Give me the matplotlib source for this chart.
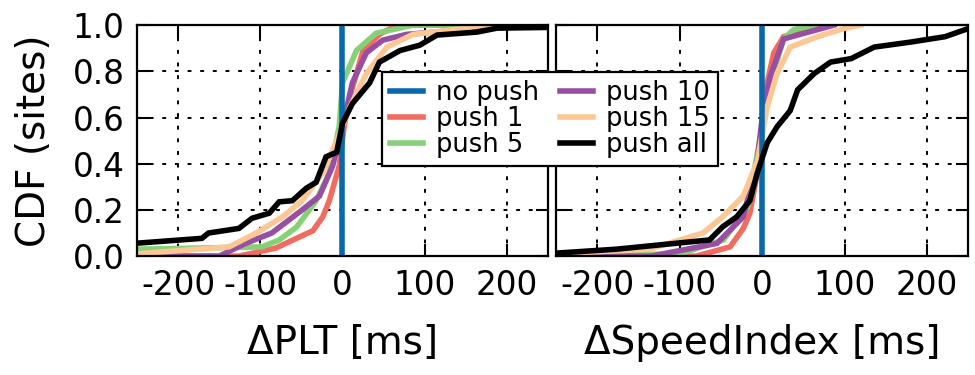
import matplotlib
matplotlib.use("Agg")
import matplotlib.pyplot as plt

# series names and colours
names = ["no push", "push 1", "push 5", "push 10", "push 15", "push all"]
colors = ["#0868ac", "#f26b5f", "#86d077", "#984ea3", "#fdc794", "black"]

# no push is the reference: all deltas are zero
nopush_x = [0, 0]
nopush_y = [0.0, 1.0]

# delta PLT (left panel)
plt_p1_x = [-250, -126, -81, -56, -36, -24, -16, -4, 2, 9, 25, 45, 66, 250]
plt_p1_y = [0.0, 0.0, 0.035, 0.077, 0.11, 0.17, 0.24, 0.39, 0.56, 0.69, 0.89, 0.96, 1.0, 1.0]
plt_p5_x = [-250, -98, -77, -56, -32, -16, -4, 0, 17, 41, 86, 250]
plt_p5_y = [0.03, 0.04, 0.07, 0.125, 0.24, 0.36, 0.56, 0.75, 0.89, 0.965, 1.0, 1.0]
plt_p10_x = [-250, -150, -118, -86, -49, -28, -12, 0, 12, 29, 49, 78, 147, 190, 250]
plt_p10_y = [0.0, 0.0, 0.055, 0.10, 0.20, 0.26, 0.39, 0.56, 0.75, 0.88, 0.935, 0.96, 0.98, 1.0, 1.0]
plt_p15_x = [-250, -138, -105, -73, -49, -24, -7, 9, 29, 54, 86, 147, 170, 250]
plt_p15_y = [0.01, 0.04, 0.10, 0.17, 0.24, 0.36, 0.50, 0.645, 0.79, 0.905, 0.96, 0.985, 1.0, 1.0]
plt_all_x = [-250, -171, -163, -126, -110, -89, -77, -61, -44, -32, -20, -7, 0, 12, 33, 45,
             70, 94, 115, 164, 188, 250]
plt_all_y = [0.056, 0.077, 0.10, 0.12, 0.164, 0.186, 0.235, 0.24, 0.294, 0.32, 0.43, 0.45,
             0.575, 0.66, 0.75, 0.84, 0.89, 0.913, 0.957, 0.97, 0.987, 0.99]

# delta SpeedIndex (right panel)
si_p1_x = [-250, -80, -39, -23, -15, -6, 1, 6, 14, 26, 59, 70]
si_p1_y = [0.0, 0.0, 0.04, 0.12, 0.185, 0.36, 0.60, 0.75, 0.88, 0.95, 0.985, 1.0]
si_p5_x = [-250, -100, -47, -18, -2, 10, 26, 38, 64]
si_p5_y = [0.0, 0.01, 0.07, 0.21, 0.52, 0.75, 0.94, 0.98, 1.0]
si_p10_x = [-250, -135, -55, -23, -6, 1, 10, 26, 46, 87]
si_p10_y = [0.0, 0.0, 0.055, 0.17, 0.415, 0.63, 0.78, 0.94, 0.96, 1.0]
si_p15_x = [-250, -137, -72, -48, -23, -6, 6, 18, 34, 67, 99, 120]
si_p15_y = [0.01, 0.03, 0.10, 0.17, 0.26, 0.41, 0.645, 0.79, 0.905, 0.95, 0.985, 1.0]
si_all_x = [-250, -177, -64, -48, -31, -15, -6, 6, 18, 34, 43, 63, 83, 108, 136, 181, 222, 250]
si_all_y = [0.013, 0.03, 0.07, 0.127, 0.17, 0.24, 0.36, 0.49, 0.56, 0.63, 0.72, 0.79, 0.84,
            0.855, 0.905, 0.927, 0.95, 0.985]

x_ticks = [-200, -100, 0, 100, 200]
y_ticks = [0.0, 0.2, 0.4, 0.6, 0.8, 1.0]

panels = [
    ("\u0394PLT [ms]", [(nopush_x, nopush_y), (plt_p1_x, plt_p1_y), (plt_p5_x, plt_p5_y),
                        (plt_p10_x, plt_p10_y), (plt_p15_x, plt_p15_y), (plt_all_x, plt_all_y)]),
    ("\u0394SpeedIndex [ms]", [(nopush_x, nopush_y), (si_p1_x, si_p1_y), (si_p5_x, si_p5_y),
                               (si_p10_x, si_p10_y), (si_p15_x, si_p15_y), (si_all_x, si_all_y)]),
]

plt.rcParams["font.family"] = ["DejaVu Sans"]

fig = plt.figure(figsize=(9.75, 3.75), dpi=100)
ax_l = fig.add_axes([0.1405, 0.317, 0.4215, 0.616])
ax_r = fig.add_axes([0.5705, 0.317, 0.4225, 0.616], sharey=ax_l)

zorders = [6, 3, 3, 3, 3, 7]
handles = []
for ax, (xlabel, curves) in zip([ax_l, ax_r], panels):
    handles = []
    for (xs, ys), name, c, z in zip(curves, names, colors, zorders):
        h, = ax.plot(xs, ys, color=c, lw=4.0, label=name, zorder=z,
                     solid_joinstyle="miter")
        handles.append(h)
    ax.set_xlim(-250, 250)
    ax.set_ylim(0, 1)
    ax.set_xticks(x_ticks)
    ax.set_xticklabels([str(t) for t in x_ticks])
    ax.set_yticks(y_ticks)
    ax.set_axisbelow(False)
    ax.grid(True, color="black", linestyle=(0, (2, 4.5)), linewidth=1.4, zorder=8)
    ax.tick_params(direction="in", length=9, width=1.5, top=True, right=True,
                   labelsize=23.5, pad=9)
    ax.set_xlabel(xlabel, fontsize=28, labelpad=16)
    for sp in ax.spines.values():
        sp.set_linewidth(1.6)
        sp.set_zorder(9)

ax_l.set_yticklabels(["%.1f" % t for t in y_ticks])
ax_l.set_ylabel("CDF (sites)", fontsize=28, labelpad=14)
ax_r.tick_params(labelleft=False)

leg = fig.legend(handles=handles, loc="center", bbox_to_anchor=(0.564, 0.683), ncol=2,
                 fontsize=18.5, frameon=True, fancybox=False, handlelength=1.3,
                 handletextpad=0.5, columnspacing=0.8, labelspacing=0.0,
                 borderpad=0.3, borderaxespad=0)
leg.get_frame().set_edgecolor("black")
leg.get_frame().set_linewidth(1.6)
leg.get_frame().set_alpha(1)
leg.set_zorder(20)
for lh in leg.get_lines():
    lh.set_linewidth(4)

fig.savefig("out.png", dpi=100)
